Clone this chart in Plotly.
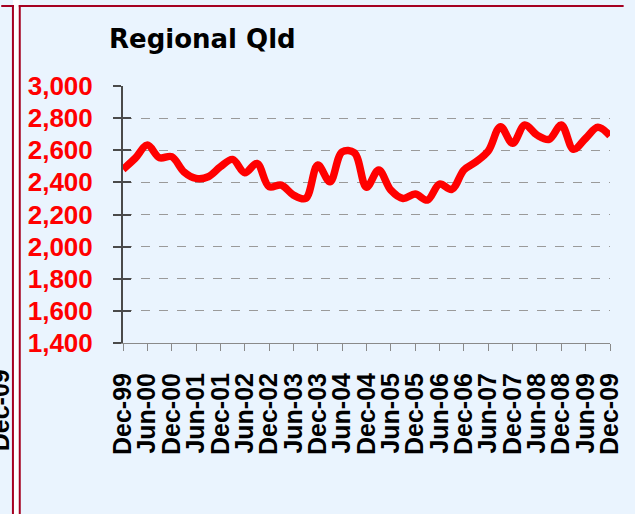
import plotly.graph_objects as go

quarters = ["Dec-99", "Mar-00", "Jun-00", "Sep-00", "Dec-00", "Mar-01", "Jun-01", "Sep-01",
            "Dec-01", "Mar-02", "Jun-02", "Sep-02", "Dec-02", "Mar-03", "Jun-03", "Sep-03",
            "Dec-03", "Mar-04", "Jun-04", "Sep-04", "Dec-04", "Mar-05", "Jun-05", "Sep-05",
            "Dec-05", "Mar-06", "Jun-06", "Sep-06", "Dec-06", "Mar-07", "Jun-07", "Sep-07",
            "Dec-07", "Mar-08", "Jun-08", "Sep-08", "Dec-08", "Mar-09", "Jun-09", "Sep-09",
            "Dec-09"]
values = [2481, 2550, 2632, 2553, 2560, 2466, 2425, 2435, 2497, 2543,
          2460, 2518, 2373, 2383, 2321, 2300, 2508, 2404, 2590, 2585,
          2369, 2477, 2352, 2300, 2327, 2290, 2389, 2356, 2477, 2528,
          2595, 2747, 2643, 2757, 2695, 2668, 2757, 2606, 2674, 2743,
          2690]
tick_labels = quarters[::2]
y_ticks = [1400, 1600, 1800, 2000, 2200, 2400, 2600, 2800, 3000]
title_text = "Regional Qld"

W, H = 635, 514
L, R, T, B = 123, 12, 86, 171
PW, PH = W - L - R, H - T - B
BG = "#EAF4FE"
BORDER = "#A50021"


def px(x):
    return (x - L) / PW


def py(y):
    return (H - B - y) / PH


idx = list(range(len(quarters)))

fig = go.Figure()
fig.add_trace(go.Scatter(
    x=idx, y=values, mode="lines",
    line=dict(color="#FF0000", width=7.5, shape="spline", smoothing=1.0),
    hoverinfo="skip", showlegend=False, cliponaxis=False))

fig.add_trace(go.Scatter(x=[0], y=[values[0]], yaxis="y2", mode="markers",
                         marker=dict(opacity=0), showlegend=False, hoverinfo="skip"))

shapes = [
    dict(type="rect", xref="paper", yref="paper", x0=px(10), x1=px(17), y0=py(H), y1=py(0),
         fillcolor="#FFFFFF", line=dict(width=0), layer="below"),
    dict(type="line", xref="paper", yref="paper", x0=px(10), x1=px(10), y0=py(H), y1=py(5),
         line=dict(color=BORDER, width=2)),
    dict(type="line", xref="paper", yref="paper", x0=px(17), x1=px(17), y0=py(H), y1=py(5),
         line=dict(color=BORDER, width=2)),
    dict(type="line", xref="paper", yref="paper", x0=px(16), x1=px(W + 2), y0=py(6), y1=py(6),
         line=dict(color=BORDER, width=2)),
    dict(type="line", xref="paper", yref="paper", x0=px(-2), x1=px(11), y0=py(6), y1=py(6),
         line=dict(color=BORDER, width=2)),
]

annotations = [
    dict(text="<b>" + title_text + "</b>", xref="paper", yref="paper", x=px(107), y=py(39),
         xanchor="left", yanchor="middle", showarrow=False,
         font=dict(family="DejaVu Sans", size=26, color="#000000")),
    dict(text="<b>Dec-09</b>", xref="paper", yref="paper", x=px(-3), y=py(410),
         xanchor="center", yanchor="middle", showarrow=False, textangle=-90,
         font=dict(family="Liberation Sans, Arial", size=25, color="#000000")),
]

fig.update_layout(
    width=W, height=H,
    margin=dict(l=L, r=R, t=T, b=B, pad=0),
    paper_bgcolor=BG, plot_bgcolor=BG,
    showlegend=False,
    shapes=shapes,
    annotations=annotations,
    xaxis=dict(
        range=[0, len(quarters) - 1], tickmode="array",
        tickvals=idx[::2], ticktext=["<b>" + t + "</b>" for t in tick_labels],
        tickangle=-90, ticks="outside", ticklen=7, tickcolor="#8A8A8A", tickwidth=1,
        showline=True, linecolor="#8A8A8A", linewidth=1, showgrid=False, zeroline=False,
        ticklabelstandoff=12, ticklabeloverflow="allow",
        tickfont=dict(family="Liberation Sans, Arial", size=25, color="#000000"),
    ),
    yaxis=dict(
        range=[1400, 3000], tickmode="array", tickvals=y_ticks,
        ticktext=["<b>" + f"{v:,}" + "</b>" for v in y_ticks],
        ticks="outside", ticklen=8, tickcolor="#4A4A4A", tickwidth=2,
        showline=True, linecolor="#4A4A4A", linewidth=2,
        showgrid=True, gridcolor="#9A9A9A", griddash="dash", gridwidth=1, zeroline=False,
        ticklabelstandoff=15,
        tickfont=dict(family="Liberation Sans, Arial", size=26, color="#FF0000"),
    ),
    yaxis2=dict(
        range=[1400, 3000], overlaying="y", side="left", tickmode="array", tickvals=y_ticks,
        ticks="inside", ticklen=8, tickcolor="#4A4A4A", tickwidth=2,
        showticklabels=False, showgrid=False, zeroline=False, showline=False,
    ),
)

fig.write_html("out.html", config={"displayModeBar": False},
               post_script="document.body.style.margin='0';document.body.style.overflow='hidden';")
